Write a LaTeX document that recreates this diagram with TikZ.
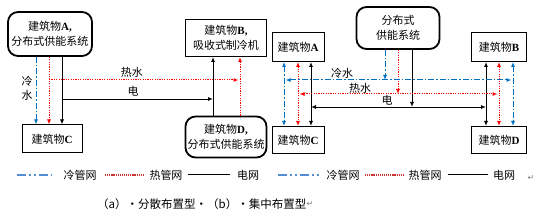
\documentclass[tikz,border=0pt]{standalone}
\usepackage{fontspec}
\setmainfont{Liberation Serif}
\newfontfamily\cjk{Noto Sans CJK SC}
\newfontfamily\symf{DejaVu Sans}
\usetikzlibrary{arrows.meta, positioning, calc}
\definecolor{coldblue}{RGB}{0, 112, 192}
\definecolor{legblue}{RGB}{84, 141, 212}
\definecolor{hotred}{RGB}{255, 0, 0}
\definecolor{legred}{RGB}{204, 51, 51}

\tikzset{
  sysbox/.style={draw, line width=1.8pt, rounded corners=10pt, align=center, inner sep=1pt, font=\fontsize{11}{15}\selectfont},
  bldbox/.style={draw, line width=1pt, align=center, inner sep=1pt, font=\fontsize{11}{15}\selectfont},
  cold/.style={coldblue, line width=1pt, dash pattern=on 6pt off 2pt on 1.5pt off 2pt},
  hot/.style={hotred, line width=1pt, dash pattern=on 1.2pt off 1.2pt},
  elec/.style={black, line width=0.9pt},
  legcold/.style={legblue, line width=1.2pt, dash pattern=on 9pt off 3pt on 2pt off 3pt on 2pt off 3pt},
  leghot/.style={legred, line width=1.2pt, dash pattern=on 1.2pt off 0.9pt},
  legelec/.style={black, line width=1pt},
  lbl/.style={font=\cjk\fontsize{11}{14}\selectfont, inner sep=1pt},
}

\begin{document}
\begin{tikzpicture}[x=1pt, y=-1pt, >={Latex[length=5pt,width=4pt]}]
\useasboundingbox (0,0) rectangle (542,221);

% (a) distributed layout
\node[sysbox, minimum width=84pt, minimum height=44pt] (A) at (50,34) {{\cjk 建筑物}\textbf{A,}\\{\cjk 分布式供能系统}};
\node[bldbox, minimum width=60pt, minimum height=28pt] (C) at (52,139) {{\cjk 建筑物}\textbf{C}};
\node[bldbox, minimum width=81pt, minimum height=37pt] (B) at (226,38) {{\cjk 建筑物}\textbf{B,}\\{\cjk 吸收式制冷机}};
\node[sysbox, minimum width=81pt, minimum height=41pt] (D) at (226,137) {{\cjk 建筑物}\textbf{D,}\\{\cjk 分布式供能系统}};

\coordinate (ac) at (36,0);
\coordinate (ah) at (49,0);
\coordinate (ae) at (62,0);
\coordinate (be) at (213,0);
\coordinate (bh) at (240,0);
\coordinate (rh) at (0,80);
\coordinate (re) at (0,99);

\draw[cold,->] (A.south -| ac) -- (C.north -| ac);
\draw[hot,->] (A.south -| ah) -- (C.north -| ah);
\draw[elec,->] (A.south -| ae) -- (C.north -| ae);
\draw[elec,->] (D.north -| be) -- (B.south -| be);
\draw[hot,->] (D.north -| bh) -- (B.south -| bh);
\draw[hot,->] (ah |- rh) -- ([xshift=-1.5pt]bh |- rh);
\draw[elec,->] (ae |- re) -- (be |- re);

\node[lbl] (lh) at (132,72) {热水};
\node[lbl] (le) at (133,91) {电};
\node[lbl, align=center] (lc) at (27,88) {冷\\水};

% (b) centralised layout
\node[sysbox, minimum width=83pt, minimum height=42pt] (S) at (398,28) {{\cjk 分布式}\\{\cjk 供能系统}};
\node[bldbox, minimum width=52pt, minimum height=29pt] (A2) at (298,47) {{\cjk 建筑物}\textbf{A}};
\node[bldbox, minimum width=52pt, minimum height=27pt] (C2) at (298,140) {{\cjk 建筑物}\textbf{C}};
\node[bldbox, minimum width=55pt, minimum height=29pt] (B2) at (499,47) {{\cjk 建筑物}\textbf{B}};
\node[bldbox, minimum width=55pt, minimum height=27pt] (D2) at (499,140) {{\cjk 建筑物}\textbf{D}};

\coordinate (pc) at (284,0);
\coordinate (ph) at (298,0);
\coordinate (pe) at (311,0);
\coordinate (qe) at (486,0);
\coordinate (qh) at (499,0);
\coordinate (qc) at (513,0);
\coordinate (sc) at (385,0);
\coordinate (sh) at (398,0);
\coordinate (se) at (412,0);
\coordinate (tc) at (0,80);
\coordinate (th) at (0,94);
\coordinate (te) at (0,107);

\draw[cold,<->] (A2.south -| pc) -- (C2.north -| pc);
\draw[hot,<->] (A2.south -| ph) -- (C2.north -| ph);
\draw[elec,<->] (A2.south -| pe) -- (C2.north -| pe);
\draw[elec,<->] (B2.south -| qe) -- (D2.north -| qe);
\draw[hot,<->] (B2.south -| qh) -- (D2.north -| qh);
\draw[cold,<->] (B2.south -| qc) -- (D2.north -| qc);

\draw[cold,->] (S.south -| sc) -- (sc |- tc);
\draw[hot,->] (S.south -| sh) -- (sh |- th);
\draw[elec,->] (S.south -| se) -- (se |- te);
\draw[cold,<->] ([xshift=1.5pt]pc |- tc) -- ([xshift=-1.5pt]qc |- tc);
\draw[hot,<->] ([xshift=1.5pt]ph |- th) -- ([xshift=-1.5pt]qh |- th);
\draw[elec,<->] (pe |- te) -- (qe |- te);

\node[lbl] (lc2) at (342,73) {冷水};
\node[lbl] (lh2) at (360,88) {热水};
\node[lbl] (le2) at (387,100) {电};

% legends
\draw[legcold] (17,175) -- (52,175);
\node[lbl] (k1) at (80,175) {冷管网};
\draw[leghot] (105,175) -- (143,175);
\node[lbl] (k2) at (166,175) {热管网};
\draw[legelec] (188,175) -- (230,175);
\node[lbl] (k3) at (248,175) {电网};

\draw[legcold] (278,175) -- (320,175);
\node[lbl] (k4) at (343,175) {冷管网};
\draw[leghot] (365,175) -- (403,175);
\node[lbl] (k5) at (425,175) {热管网};
\draw[legelec] (448,175) -- (488,175);
\node[lbl] (k6) at (504,175) {电网};
\node[font=\symf\fontsize{8}{9}\selectfont, text=gray, inner sep=0pt] (ret1) at (531,178) {↵};

% caption
\node[font=\cjk\fontsize{11.5}{13}\selectfont, inner sep=0pt, anchor=west] (cap) at (97,204) {（a）·分散布置型·（b）·集中布置型};
\node[font=\symf\fontsize{8}{9}\selectfont, text=gray, inner sep=0pt, anchor=west] (ret2) at (cap.east) {↵};
\end{tikzpicture}
\end{document}
